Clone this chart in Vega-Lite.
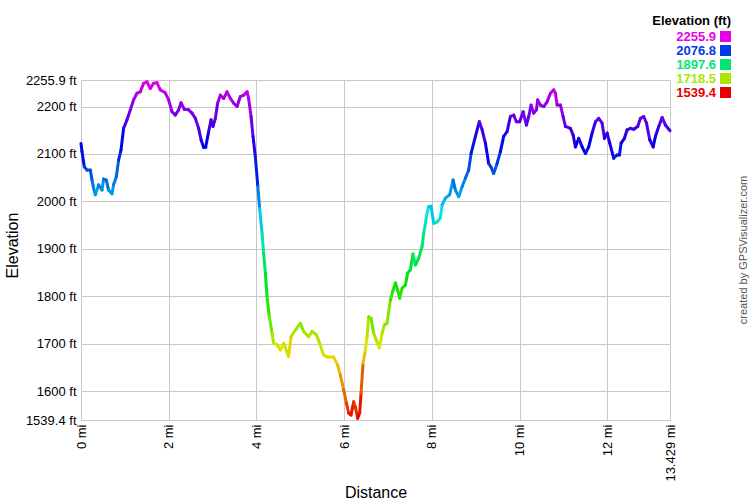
{
  "$schema": "https://vega.github.io/schema/vega-lite/v6.json",
  "width": 589,
  "height": 340,
  "autosize": {"type": "none"},
  "padding": {"left": 81, "top": 80, "right": 80, "bottom": 80},
  "background": "white",
  "config": {"font": "Liberation Sans", "view": {"stroke": "#c8c8c8"}},
  "title": {"text": "created by GPSVisualizer.com", "orient": "right", "angle": 270, "fontSize": 11, "fontWeight": "normal", "color": "#555555", "anchor": "middle", "offset": 2, "baseline": "middle"},
  "data": {"values": [
    {"d": 0, "e": 2122}, {"d": 0.023, "e": 2105}, {"d": 0.075, "e": 2073}, {"d": 0.137, "e": 2066}, {"d": 0.212, "e": 2066},
    {"d": 0.251, "e": 2045}, {"d": 0.287, "e": 2028}, {"d": 0.326, "e": 2014}, {"d": 0.401, "e": 2035}, {"d": 0.479, "e": 2024},
    {"d": 0.515, "e": 2047}, {"d": 0.577, "e": 2045}, {"d": 0.629, "e": 2024}, {"d": 0.707, "e": 2016}, {"d": 0.743, "e": 2035},
    {"d": 0.805, "e": 2052}, {"d": 0.857, "e": 2087}, {"d": 0.912, "e": 2108}, {"d": 0.971, "e": 2154}, {"d": 1.049, "e": 2172},
    {"d": 1.124, "e": 2193}, {"d": 1.2, "e": 2214}, {"d": 1.277, "e": 2228}, {"d": 1.352, "e": 2231}, {"d": 1.428, "e": 2249},
    {"d": 1.505, "e": 2252}, {"d": 1.58, "e": 2238}, {"d": 1.656, "e": 2249}, {"d": 1.733, "e": 2250}, {"d": 1.808, "e": 2235},
    {"d": 1.922, "e": 2229}, {"d": 1.998, "e": 2214}, {"d": 2.075, "e": 2189}, {"d": 2.151, "e": 2182}, {"d": 2.226, "e": 2193},
    {"d": 2.281, "e": 2208}, {"d": 2.356, "e": 2194}, {"d": 2.454, "e": 2193}, {"d": 2.531, "e": 2186}, {"d": 2.607, "e": 2175},
    {"d": 2.682, "e": 2154}, {"d": 2.737, "e": 2130}, {"d": 2.796, "e": 2114}, {"d": 2.842, "e": 2114}, {"d": 2.91, "e": 2147},
    {"d": 2.965, "e": 2172}, {"d": 3.01, "e": 2158}, {"d": 3.063, "e": 2175}, {"d": 3.115, "e": 2207}, {"d": 3.177, "e": 2224},
    {"d": 3.252, "e": 2217}, {"d": 3.33, "e": 2231}, {"d": 3.405, "e": 2217}, {"d": 3.48, "e": 2207}, {"d": 3.558, "e": 2200},
    {"d": 3.633, "e": 2221}, {"d": 3.708, "e": 2224}, {"d": 3.786, "e": 2231}, {"d": 3.822, "e": 2217}, {"d": 3.877, "e": 2179},
    {"d": 3.922, "e": 2137}, {"d": 3.975, "e": 2094}, {"d": 4.032, "e": 2031}, {"d": 4.073, "e": 1985}, {"d": 4.128, "e": 1933},
    {"d": 4.164, "e": 1891}, {"d": 4.203, "e": 1849}, {"d": 4.242, "e": 1799}, {"d": 4.294, "e": 1757}, {"d": 4.356, "e": 1722},
    {"d": 4.392, "e": 1701}, {"d": 4.47, "e": 1698}, {"d": 4.545, "e": 1687}, {"d": 4.62, "e": 1701}, {"d": 4.734, "e": 1673},
    {"d": 4.789, "e": 1715}, {"d": 4.887, "e": 1729}, {"d": 5.001, "e": 1743}, {"d": 5.076, "e": 1726}, {"d": 5.19, "e": 1715},
    {"d": 5.268, "e": 1726}, {"d": 5.366, "e": 1719}, {"d": 5.441, "e": 1701}, {"d": 5.533, "e": 1676}, {"d": 5.624, "e": 1672},
    {"d": 5.761, "e": 1672}, {"d": 5.852, "e": 1655}, {"d": 5.913, "e": 1634}, {"d": 5.989, "e": 1603}, {"d": 6.05, "e": 1575},
    {"d": 6.103, "e": 1554}, {"d": 6.157, "e": 1550}, {"d": 6.217, "e": 1578}, {"d": 6.255, "e": 1567}, {"d": 6.308, "e": 1543},
    {"d": 6.354, "e": 1554}, {"d": 6.385, "e": 1596}, {"d": 6.431, "e": 1659}, {"d": 6.484, "e": 1687}, {"d": 6.522, "e": 1715},
    {"d": 6.559, "e": 1757}, {"d": 6.613, "e": 1754}, {"d": 6.673, "e": 1722}, {"d": 6.75, "e": 1704}, {"d": 6.803, "e": 1691},
    {"d": 6.864, "e": 1722}, {"d": 6.917, "e": 1740}, {"d": 6.978, "e": 1743}, {"d": 7.054, "e": 1792}, {"d": 7.115, "e": 1813},
    {"d": 7.168, "e": 1828}, {"d": 7.22, "e": 1813}, {"d": 7.266, "e": 1796}, {"d": 7.32, "e": 1817}, {"d": 7.396, "e": 1824},
    {"d": 7.448, "e": 1849}, {"d": 7.51, "e": 1856}, {"d": 7.567, "e": 1889}, {"d": 7.624, "e": 1866}, {"d": 7.699, "e": 1880},
    {"d": 7.777, "e": 1905}, {"d": 7.813, "e": 1933}, {"d": 7.852, "e": 1954}, {"d": 7.875, "e": 1968}, {"d": 7.927, "e": 1989},
    {"d": 7.982, "e": 1990}, {"d": 8.041, "e": 1954}, {"d": 8.125, "e": 1957}, {"d": 8.194, "e": 1966}, {"d": 8.233, "e": 1993},
    {"d": 8.308, "e": 2007}, {"d": 8.406, "e": 2014}, {"d": 8.483, "e": 2045}, {"d": 8.536, "e": 2024}, {"d": 8.611, "e": 2010},
    {"d": 8.689, "e": 2031}, {"d": 8.764, "e": 2049}, {"d": 8.839, "e": 2066}, {"d": 8.894, "e": 2101}, {"d": 8.992, "e": 2137},
    {"d": 9.083, "e": 2168}, {"d": 9.145, "e": 2151}, {"d": 9.22, "e": 2123}, {"d": 9.295, "e": 2080}, {"d": 9.35, "e": 2072},
    {"d": 9.409, "e": 2059}, {"d": 9.487, "e": 2080}, {"d": 9.562, "e": 2105}, {"d": 9.637, "e": 2137}, {"d": 9.715, "e": 2147},
    {"d": 9.79, "e": 2179}, {"d": 9.866, "e": 2182}, {"d": 9.927, "e": 2168}, {"d": 10.002, "e": 2168}, {"d": 10.08, "e": 2189},
    {"d": 10.155, "e": 2161}, {"d": 10.208, "e": 2179}, {"d": 10.262, "e": 2203}, {"d": 10.322, "e": 2186}, {"d": 10.383, "e": 2193},
    {"d": 10.413, "e": 2214}, {"d": 10.474, "e": 2203}, {"d": 10.55, "e": 2200}, {"d": 10.627, "e": 2210}, {"d": 10.703, "e": 2228},
    {"d": 10.778, "e": 2235}, {"d": 10.817, "e": 2228}, {"d": 10.855, "e": 2203}, {"d": 10.931, "e": 2203}, {"d": 10.992, "e": 2179},
    {"d": 11.045, "e": 2158}, {"d": 11.159, "e": 2154}, {"d": 11.22, "e": 2140}, {"d": 11.273, "e": 2115}, {"d": 11.348, "e": 2133},
    {"d": 11.425, "e": 2115}, {"d": 11.501, "e": 2101}, {"d": 11.576, "e": 2115}, {"d": 11.653, "e": 2144}, {"d": 11.729, "e": 2168},
    {"d": 11.804, "e": 2175}, {"d": 11.881, "e": 2165}, {"d": 11.934, "e": 2133}, {"d": 11.996, "e": 2144}, {"d": 12.055, "e": 2123},
    {"d": 12.146, "e": 2091}, {"d": 12.223, "e": 2098}, {"d": 12.276, "e": 2098}, {"d": 12.315, "e": 2123}, {"d": 12.39, "e": 2133},
    {"d": 12.452, "e": 2151}, {"d": 12.527, "e": 2154}, {"d": 12.602, "e": 2152}, {"d": 12.693, "e": 2158}, {"d": 12.755, "e": 2175},
    {"d": 12.83, "e": 2179}, {"d": 12.893, "e": 2165}, {"d": 12.967, "e": 2130}, {"d": 13.045, "e": 2115}, {"d": 13.096, "e": 2137},
    {"d": 13.172, "e": 2158}, {"d": 13.25, "e": 2177}, {"d": 13.325, "e": 2161}, {"d": 13.429, "e": 2149}
  ]},
  "transform": [
    {"window": [{"op": "lead", "field": "d", "as": "d2"}, {"op": "lead", "field": "e", "as": "e2"}], "sort": [{"field": "d"}]},
    {"filter": "datum.d2 != null"}
  ],
  "mark": {"type": "rule", "strokeWidth": 3, "strokeCap": "round"},
  "encoding": {
    "x": {
      "field": "d", "type": "quantitative",
      "scale": {"domain": [0, 13.429], "nice": false, "zero": false},
      "axis": {
        "values": [0, 2, 4, 6, 8, 10, 12, 13.429],
        "labelExpr": "datum.value + ' mi'",
        "labelAngle": -90, "labelFontSize": 13, "labelColor": "black", "labelPadding": 4,
        "labelFlush": false, "labelOverlap": false,
        "ticks": false, "domainColor": "#c8c8c8", "grid": true, "gridColor": "#c8c8c8", "gridOpacity": 1,
        "title": "Distance", "titleFontSize": 16, "titleFontWeight": "normal", "titleColor": "black",
        "titleBaseline": "alphabetic", "titleY": 77
      }
    },
    "x2": {"field": "d2"},
    "y": {
      "field": "e", "type": "quantitative",
      "scale": {"domain": [1539.4, 2255.9], "nice": false, "zero": false},
      "axis": {
        "values": [1539.4, 1600, 1700, 1800, 1900, 2000, 2100, 2200, 2255.9],
        "labelExpr": "datum.value + ' ft'",
        "labelFontSize": 13, "labelColor": "black", "labelPadding": 5,
        "labelFlush": false, "labelOverlap": false,
        "ticks": false, "domainColor": "#c8c8c8", "grid": true, "gridColor": "#c8c8c8", "gridOpacity": 1,
        "title": "Elevation", "titleFontSize": 16, "titleFontWeight": "normal", "titleColor": "black",
        "titleBaseline": "alphabetic", "titleX": -64, "titleY": 165
      }
    },
    "y2": {"field": "e2"},
    "color": {
      "field": "e", "type": "quantitative",
      "scale": {"domain": [1539.4, 2255.9], "range": ["#e60000", "#e600e6"], "interpolate": "hsl-long"},
      "legend": {
        "type": "symbol",
        "values": [2255.9, 2076.8, 1897.6, 1718.5, 1539.4],
        "format": ".1f",
        "orient": "none", "legendX": 571, "legendY": -65,
        "title": "Elevation (ft)", "titleFontSize": 13, "titleFontWeight": "bold", "titleColor": "black",
        "titleAnchor": "end", "titlePadding": 2,
        "labelFontSize": 13, "labelFontWeight": "bold", "labelAlign": "right", "labelOffset": -16,
        "symbolType": "square", "symbolSize": 121, "symbolStrokeWidth": 0, "symbolOffset": 50,
        "rowPadding": 0,
        "encode": {
          "labels": {"update": {"fill": {"scale": "color", "field": "value"}}},
          "symbols": {"update": {"fill": {"scale": "color", "field": "value"}, "fillOpacity": {"value": 1}}}
        }
      }
    }
  }
}
